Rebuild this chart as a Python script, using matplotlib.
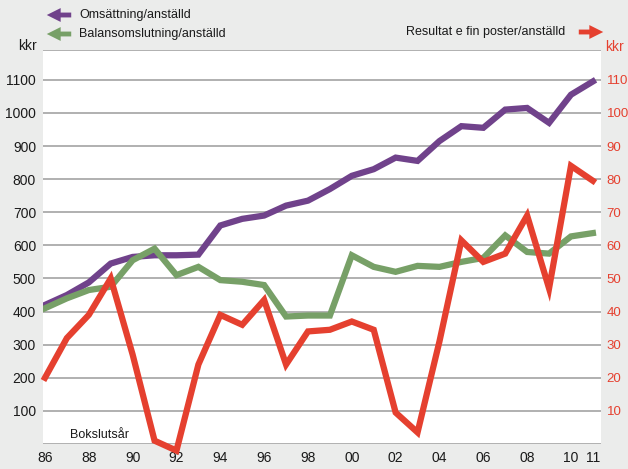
import matplotlib
matplotlib.use("Agg")
import matplotlib.pyplot as plt

plt.rcParams['font.family'] = ['Liberation Sans', 'DejaVu Sans']

# Data (kkr per employee), fiscal years 1986-2011
years = list(range(1986, 2012))
omsattning = [420, 450, 488, 545, 565, 570, 570, 572, 660, 680, 690, 720, 735, 770,
              810, 830, 865, 855, 915, 960, 955, 1010, 1015, 970, 1055, 1095]
balans = [410, 440, 465, 475, 555, 590, 510, 535, 495, 490, 480, 385, 388, 388,
          570, 535, 520, 538, 535, 550, 562, 630, 580, 575, 627, 637]
resultat = [20, 32, 39, 50, 27, 1, -2, 24, 39, 36, 43.5, 24, 34, 34.5,
            37, 34.5, 9.5, 3.5, 31, 61.5, 55, 57.5, 69, 47, 84, 79.5]

tick_years = [1986, 1988, 1990, 1992, 1994, 1996, 1998, 2000, 2002, 2004, 2006, 2008, 2010, 2011]
tick_labels = ['86', '88', '90', '92', '94', '96', '98', '00', '02', '04', '06', '08', '10', '11']
left_ticks = [100, 200, 300, 400, 500, 600, 700, 800, 900, 1000, 1100]
right_ticks = [10, 20, 30, 40, 50, 60, 70, 80, 90, 100, 110]

c_purple = '#70428b'
c_green = '#77a067'
c_red = '#e5402f'
c_bg = '#ebeceb'
c_grid = '#a3a3a3'

W, H = 628, 469
fig = plt.figure(figsize=(W / 100, H / 100), dpi=100, facecolor=c_bg)
ax = fig.add_axes([43 / W, 1 - 444 / H, (601 - 43) / W, (444 - 50) / H])
ax.set_facecolor('white')

ax.set_ylim(0, 1190)
ax.set_xlim(1985.91, 2011.37)
for s in ax.spines.values():
    s.set_visible(False)

# gridlines
for v in [0] + left_ticks + [1190]:
    ax.axhline(v, color=c_grid, lw=1.2, zorder=1)

ax.plot(years, omsattning, color=c_purple, lw=4.5, solid_joinstyle='miter', zorder=3)
ax.plot(years, balans, color=c_green, lw=4.5, solid_joinstyle='miter', zorder=4)

ax2 = ax.twinx()
ax2.set_ylim(0, 119)
for s in ax2.spines.values():
    s.set_visible(False)
ax2.plot(years, resultat, color=c_red, lw=4.5, solid_joinstyle='miter', zorder=5, clip_on=False)

ax.set_yticks(left_ticks)
ax.set_yticklabels([str(v) for v in left_ticks])
ax.tick_params(axis='y', length=0, pad=5, labelsize=10, labelcolor='#1a1a1a')
ax2.set_yticks(right_ticks)
ax2.set_yticklabels([str(v) for v in right_ticks])
ax2.tick_params(axis='y', length=0, pad=4, labelsize=9.5, labelcolor=c_red)
ax.set_xticks(tick_years)
ax.set_xticklabels(tick_labels)
ax.tick_params(axis='x', length=0, pad=5, labelsize=10, labelcolor='#1a1a1a')

# unit labels
fig.text(37 / W, 1 - 46 / H, 'kkr', ha='right', va='center', fontsize=10, color='#1a1a1a')
fig.text(605 / W, 1 - 47 / H, 'kkr', ha='left', va='center', fontsize=10, color=c_red)
fig.text(70 / W, 1 - 435 / H, 'Bokslutsår', ha='left', va='center', fontsize=9, color='#1a1a1a')

# legend with arrows
def arrow(x0, x1, y, color):
    fig.patches.append(matplotlib.patches.FancyArrowPatch(
        (x0 / W, 1 - y / H), (x1 / W, 1 - y / H), transform=fig.transFigure,
        arrowstyle='simple,head_length=1.0,head_width=1.0,tail_width=0.35',
        mutation_scale=10, color=color, lw=0))

arrow(74, 44, 15, c_purple)
arrow(74, 44, 34, c_green)
arrow(576, 606, 32, c_red)
fig.text(79 / W, 1 - 15 / H, 'Omsättning/anställd', ha='left', va='center', fontsize=9, color='#1a1a1a')
fig.text(79 / W, 1 - 34 / H, 'Balansomslutning/anställd', ha='left', va='center', fontsize=9, color='#1a1a1a')
fig.text(565 / W, 1 - 32 / H, 'Resultat e fin poster/anställd', ha='right', va='center', fontsize=9, color='#1a1a1a')

plt.savefig('out.png', dpi=100, facecolor=c_bg)
plt.close()
